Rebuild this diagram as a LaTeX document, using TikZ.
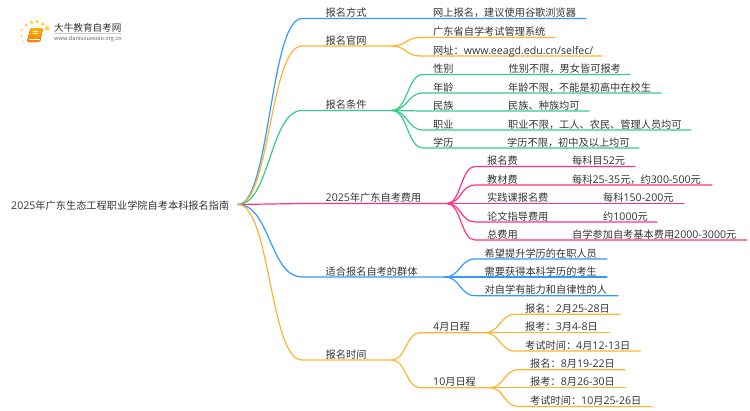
\documentclass[tikz,border=0pt]{standalone}
\usepackage{fontspec}
\setmainfont{Noto Sans CJK SC}
\newfontfamily\latfont[Scale=1.04]{Open Sans}
\newcommand{\lat}[1]{{\latfont #1}}
\usetikzlibrary{calc}
\definecolor{lblue}{HTML}{3399FF}
\definecolor{lorange}{HTML}{FFB32E}
\definecolor{lgreen}{HTML}{33CC85}
\definecolor{lpink}{HTML}{FF3385}
\definecolor{ltext}{HTML}{333333}
\tikzset{
  lbl/.style={anchor=base west,inner sep=0,text=ltext,font=\fontsize{10.2}{12}\selectfont},
  bar/.style={line width=1.2pt,line cap=round},
}
\newcommand{\limb}[4]{
  \coordinate (mid) at ($(#2)!0.5!(#3)$);
  \draw[bar,#1] (#2) .. controls (mid |- #2) and (mid |- #3) .. (#3) -- (#4);
}
\begin{document}
\begin{tikzpicture}[x=1pt,y=-1pt]
  \useasboundingbox (0,0) rectangle (750,410);
  % logo
  \foreach \i/\x/\y/\r in {1/21.7/30/1.1,2/26/25/1.5,3/31.7/22.3/1.8,4/37.3/21.7/1.8,5/42.7/24/1.8,6/47.3/28.3/2.2,7/21.7/36/1,8/22.7/41.7/0.8}{
    \fill[orange!45!yellow!80!white] (\x,\y) circle (\r);
  }
  \fill[rounded corners=1.5pt,top color=orange!60!yellow,bottom color=orange] (30.5,28) -- (43,28) -- (40,42) -- (27,42) -- cycle;
  \draw[white,line width=0.5pt] (28.5,39.5) -- (40,39.5);
  \draw[white,line width=0.4pt] (33,31) -- (38,31) (32.5,33) -- (37.5,33);
  \node[anchor=base west,inner sep=0,text=ltext,font=\fontsize{9.6}{12}\selectfont] (logotext) at (54,31) {大牛教育自考网};
  \draw[black!20,line width=0.5pt] (54,33.2) -- (121,33.2);
  \node[anchor=base west,inner sep=0,text=black!60,font=\fontsize{5.6}{7}\selectfont] (logourl) at (54,40.5) {www.daniuxuexiao.org.cn};
  % root
  \node[lbl] (root) at (11,209) {\lat{2025}年广东生态工程职业学院自考本科报名指南};
  \coordinate (hub) at (238,204.5);
  % main branches
  \foreach \nm/\yy/\xe/\cc/\lab in {
    fs/18.5/586/lblue/报名方式,
    gw/46/392/lorange/报名官网,
    tj/110.5/392/lgreen/报名条件,
    fy/203.5/447/lpink/\lat{2025}年广东自考费用,
    qt/277/445/lblue/适合报名自考的群体,
    sj/360/392/lorange/报名时间}{
    \coordinate (\nm-k) at (302,\yy);
    \coordinate (\nm-e) at (\xe,\yy);
    \limb{\cc}{hub}{\nm-k}{\nm-e}
    \node[lbl] (\nm) at (325.5,\yy-2) {\lab};
  }
  \node[lbl] (fs-v) at (433,16.5) {网上报名，建议使用谷歌浏览器};
  % website
  \foreach \nm/\yy/\xe/\lab in {
    gw1/37.5/555/广东省自学考试管理系统,
    gw2/56/602/{网址：\lat{www.eeagd.edu.cn/selfec/}}}{
    \coordinate (\nm-k) at (420,\yy);
    \coordinate (\nm-e) at (\xe,\yy);
    \limb{lorange}{gw-e}{\nm-k}{\nm-e}
    \node[lbl] (\nm) at (433,\yy-2) {\lab};
  }
  % conditions
  \foreach \nm/\yy/\xe/\lab/\xv/\val in {
    tj1/74.5/630/性别/508.5/性别不限，男女皆可报考,
    tj2/93/661/年龄/508/年龄不限，不能是初高中在校生,
    tj3/111/589/民族/508/民族、种族均可,
    tj4/130/691/职业/508/职业不限，工人、农民、管理人员均可,
    tj5/148/639/学历/507/学历不限，初中及以上均可}{
    \coordinate (\nm-k) at (423,\yy);
    \coordinate (\nm-e) at (\xe,\yy);
    \limb{lgreen}{tj-e}{\nm-k}{\nm-e}
    \node[lbl] (\nm) at (433,\yy-2) {\lab};
    \node[lbl] (\nm-v) at (\xv,\yy-2) {\val};
  }
  % fees
  \foreach \nm/\yy/\xe/\lab/\xv/\val in {
    fy1/166.5/635/报名费/572/每科目\lat{52}元,
    fy2/185/712/教材费/572/每科\lat{25-35}元，约\lat{300-500}元,
    fy3/203.5/684/实践课报名费/603/每科\lat{150-200}元,
    fy4/222/657/论文指导费用/603/约\lat{1000}元,
    fy5/240/747/总费用/572/自学参加自考基本费用\lat{2000-3000}元}{
    \coordinate (\nm-k) at (475,\yy);
    \coordinate (\nm-e) at (\xe,\yy);
    \limb{lpink}{fy-e}{\nm-k}{\nm-e}
    \node[lbl] (\nm) at (487,\yy-2) {\lab};
    \node[lbl] (\nm-v) at (\xv,\yy-2) {\val};
  }
  % who
  \foreach \nm/\yy/\xe/\lab in {
    qt1/259/607/希望提升学历的在职人员,
    qt2/277/607/需要获得本科学历的考生,
    qt3/295.7/618/对自学有能力和自律性的人}{
    \coordinate (\nm-k) at (475,\yy);
    \coordinate (\nm-e) at (\xe,\yy);
    \limb{lblue}{qt-e}{\nm-k}{\nm-e}
    \node[lbl] (\nm) at (484.5,\yy-2) {\lab};
  }
  % dates
  \foreach \nm/\yy/\xe/\lab in {
    sj4/332.7/485/\lat{4}月日程,
    sj10/387.7/490/\lat{10}月日程}{
    \coordinate (\nm-k) at (420,\yy);
    \coordinate (\nm-e) at (\xe,\yy);
    \limb{lorange}{sj-e}{\nm-k}{\nm-e}
    \node[lbl] (\nm) at (433,\yy-2) {\lab};
  }
  \foreach \nm/\up/\yy/\xk/\xe/\xt/\lab in {
    a1/sj4/314.3/515/620/525/报名：\lat{2}月\lat{25-28}日,
    a2/sj4/332.7/515/609/525/报考：\lat{3}月\lat{4-8}日,
    a3/sj4/351/515/640.6/525/考试时间：\lat{4}月\lat{12-13}日,
    b1/sj10/369.7/518/625/530/报名：\lat{8}月\lat{19-22}日,
    b2/sj10/387.7/518/625/530/报考：\lat{8}月\lat{26-30}日,
    b3/sj10/406.5/518/652/530/考试时间：\lat{10}月\lat{25-26}日}{
    \coordinate (\nm-k) at (\xk,\yy);
    \coordinate (\nm-e) at (\xe,\yy);
    \limb{lorange}{\up-e}{\nm-k}{\nm-e}
    \node[lbl] (\nm) at (\xt,\yy-2) {\lab};
  }
\end{tikzpicture}
\end{document}
